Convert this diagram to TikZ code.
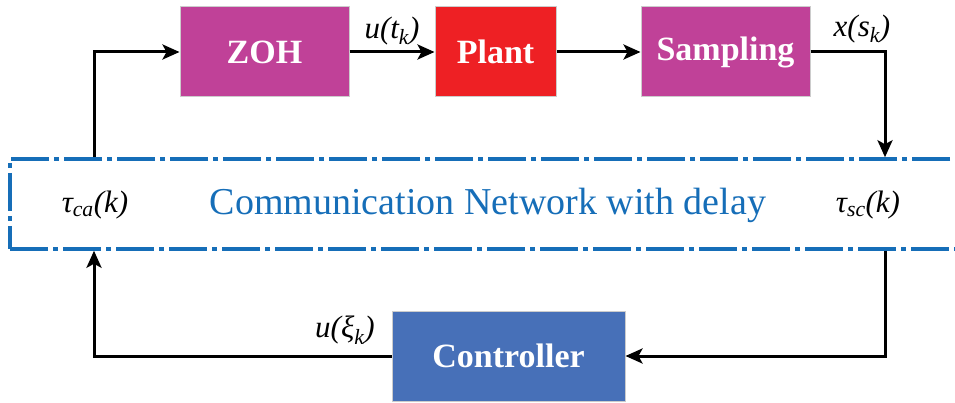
\documentclass[tikz,border=0pt]{standalone}
\usepackage{fontspec}
\setmainfont{Liberation Serif}
\usetikzlibrary{arrows.meta}
\definecolor{magbox}{RGB}{192,65,152}
\definecolor{redbox}{RGB}{238,32,36}
\definecolor{bluebox}{RGB}{71,112,184}
\definecolor{netblue}{RGB}{22,110,184}
\tikzset{
  blockbox/.style={draw=black!20, line width=1pt, text=white, font=\fontsize{34}{40}\selectfont\bfseries, minimum height=90pt, inner sep=0pt},
  arr/.style={line width=3pt, -{Stealth[length=17pt,width=15pt,inset=4pt]}},
  lbl/.style={font=\fontsize{31}{36}\selectfont\itshape, inner sep=0pt},
  netbox/.style={draw=netblue, line width=3.5pt, dash pattern=on 38pt off 5pt on 5pt off 5pt, minimum width=955pt, minimum height=90pt, inner sep=0pt}
}
\begin{document}
\begin{tikzpicture}[x=1pt,y=-1pt]
\clip (0,0) rectangle (955,403);
\useasboundingbox (0,0) rectangle (955,403);
\node[blockbox, fill=magbox, minimum width=169pt] (zoh) at (264.5,52) {ZOH};
\node[blockbox, fill=redbox, minimum width=121pt] (plant) at (495.5,52) {Plant};
\node[blockbox, fill=magbox, minimum width=169pt] (samp) at (725.5,52) {Sampling};
\node[blockbox, fill=bluebox, minimum width=233pt] (ctrl) at (508.5,356) {Controller};
\node[netbox] (net) at (487.5,204) {};
\node[font=\fontsize{38}{44}\selectfont, text=netblue, inner sep=0pt] (nettxt) at (488,205) {Communication Network with delay};
\coordinate (ca) at (94,204);
\coordinate (sc) at (885,204);
\node[lbl] (lca) at (95,205) {τ\textsubscript{ca}(k)};
\node[lbl] (lsc) at (868,205) {τ\textsubscript{sc}(k)};
\node[lbl] (lu) at (392,31) {u(t\textsubscript{k})};
\node[lbl] (lx) at (862,29) {x(s\textsubscript{k})};
\node[lbl] (lxi) at (345,330) {u(ξ\textsubscript{k})};
\draw[arr] (zoh.east) -- (plant.west);
\draw[arr] (plant.east) -- (samp.west);
\draw[arr] (samp.east) -| (sc |- net.north);
\draw[arr] (sc |- net.south) |- (ctrl.east);
\draw[arr] (ctrl.west) -| (ca |- net.south);
\draw[arr] (ca |- net.north) |- (zoh.west);
\end{tikzpicture}
\end{document}
